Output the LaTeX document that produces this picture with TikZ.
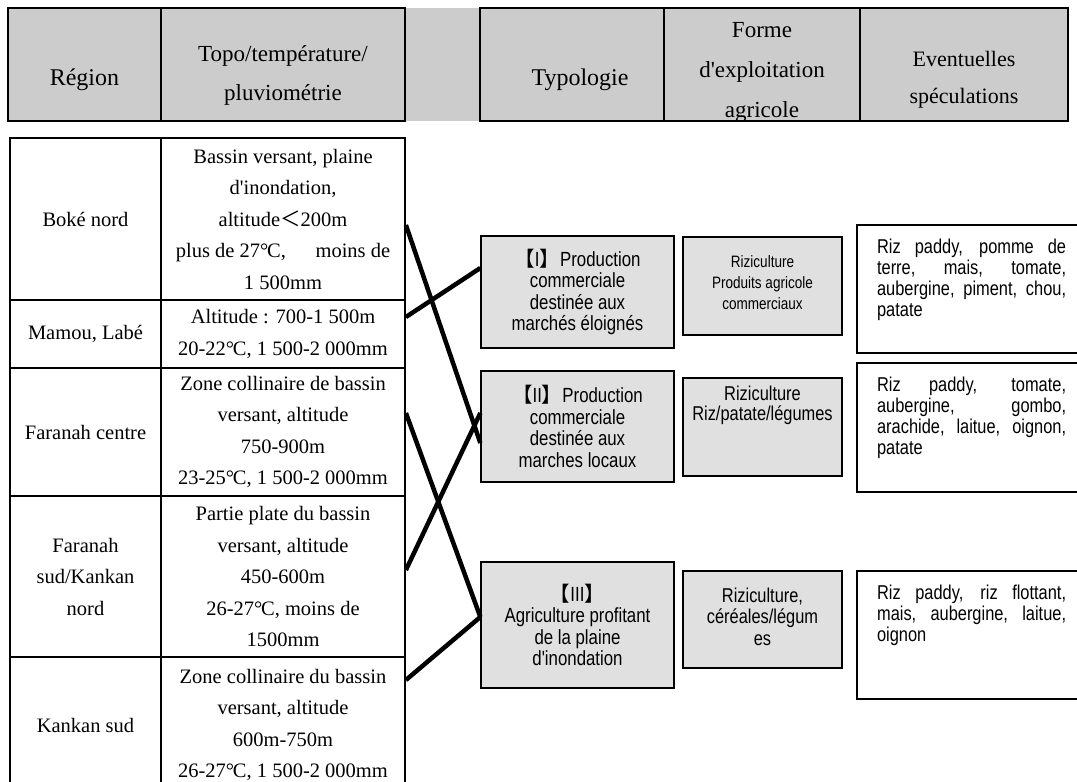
\documentclass[tikz,border=0pt]{standalone}
\usepackage{fontspec}
\setmainfont{Liberation Serif}[Ligatures=TeXOff]
\newfontfamily\narrow{Liberation Sans}[FakeStretch=0.82]
\newfontfamily\cjk{Noto Sans CJK SC}
\newcommand\degc{°\kern-0.06em C}
\definecolor{hdrgray}{gray}{0.8}
\definecolor{boxgray}{gray}{0.88}
\usetikzlibrary{positioning}

\begin{document}
\begin{tikzpicture}[x=1pt,y=-1pt,
    hdr/.style={draw,line width=2.4pt,inner sep=0pt,minimum height=113pt},
    cell/.style={draw,line width=1.8pt,inner sep=0pt,align=center,font=\fontsize{20.5}{31.5}\selectfont},
    typo/.style={draw,line width=1.3pt,fill=boxgray,minimum width=193pt,inner sep=0pt,align=center,font=\narrow\fontsize{20.5}{21.5}\selectfont},
    forme/.style={draw,line width=1.8pt,fill=boxgray,minimum width=159pt,minimum height=98pt,inner sep=0pt},
    ftext/.style={align=center,inner sep=0pt},
    spec/.style={draw,line width=2.2pt,minimum width=230pt,inner sep=0pt},
    stext/.style={text width=189pt,align=justify,inner sep=0pt,anchor=north west,font=\narrow\fontsize{20}{21}\selectfont},
    link/.style={line width=4.5pt}]
\clip (0,0) rectangle (1077,782);

% header band
\fill[hdrgray] (8,8) rectangle (1068,121);
\node[hdr,minimum width=153pt] (hReg) at (84.5,64.5) {};
\node[hdr,minimum width=244pt] (hTopo) at (283,64.5) {};
\node[hdr,minimum width=184pt] (hTyp) at (572,64.5) {};
\node[hdr,minimum width=196pt] (hForme) at (762,64.5) {};
\node[hdr,minimum width=208pt] (hSpec) at (964,64.5) {};
\node[font=\fontsize{24}{30}\selectfont] at ([yshift=-15pt]hReg.center) {Région};
\node[align=center,font=\fontsize{23}{39}\selectfont] at ([yshift=-11pt]hTopo.center) {Topo/température/\\pluviométrie};
\node[font=\fontsize{24}{30}\selectfont] at ([xshift=8pt,yshift=-15pt]hTyp.center) {Typologie};
\node[align=center,font=\fontsize{23}{40}\selectfont] at ([yshift=-8pt]hForme.center) {Forme\\d'exploitation\\agricole};
\node[align=center,font=\fontsize{22}{37}\selectfont] at ([yshift=-15pt]hSpec.center) {Eventuelles\\spéculations};

% regions
\node[cell,minimum width=151pt,minimum height=162pt] (r1) at (85.5,219) {Boké nord};
\node[cell,minimum width=244pt,minimum height=162pt] (d1) at (283,219)
  {Bassin versant, plaine\\d'inondation,\\altitude{\cjk ＜}200m\\plus de 27\degc,\hspace{1.2em} moins de\\1 500mm};
\node[cell,minimum width=151pt,minimum height=68pt] (r2) at (85.5,334) {Mamou, Labé};
\node[cell,minimum width=244pt,minimum height=68pt] (d2) at (283,334)
  {Altitude : 700-1 500m\\20-22\degc, 1 500-2 000mm};
\node[cell,minimum width=151pt,minimum height=128pt] (r3) at (85.5,432) {Faranah centre};
\node[cell,minimum width=244pt,minimum height=128pt] (d3) at (283,432)
  {Zone collinaire de bassin\\versant, altitude\\750-900m\\23-25\degc, 1 500-2 000mm};
\node[cell,minimum width=151pt,minimum height=161pt] (r4) at (85.5,576.5) {Faranah\\sud/Kankan\\nord};
\node[cell,minimum width=244pt,minimum height=161pt] (d4) at (283,576.5)
  {Partie plate du bassin\\versant, altitude\\450-600m\\26-27\degc, moins de\\1500mm};
\node[cell,minimum width=151pt,minimum height=136pt] (r5) at (85.5,725) {Kankan sud};
\node[cell,minimum width=244pt,minimum height=136pt] (d5) at (283,725)
  {Zone collinaire du bassin\\versant, altitude\\600m-750m\\26-27\degc, 1 500-2 000mm};

% typologie
\node[typo,minimum height=112pt] (tI) at (577.5,292)
  {{\cjk 【}I{\cjk 】}Production\\commerciale\\destinée aux\\marchés éloignés};
\node[typo,minimum height=111pt] (tII) at (577.5,426.5)
  {{\cjk 【}II{\cjk 】}Production\\commerciale\\destinée aux\\marches locaux};
\node[typo,minimum height=126pt] (tIII) at (577.5,625)
  {{\cjk 【}III{\cjk 】}\\Agriculture profitant\\de la plaine\\d'inondation};

% forme d'exploitation
\node[forme] (fI) at (762.5,286) {};
\node[forme] (fII) at (762.5,427) {};
\node[forme,minimum height=97pt] (fIII) at (762.5,619.5) {};
\node[ftext,font=\narrow\fontsize{16.5}{21}\selectfont] at ([yshift=3pt]fI.center) {Riziculture\\Produits agricole\\commerciaux};
\node[ftext,font=\narrow\fontsize{20}{20}\selectfont] at ([yshift=22pt]fII.center) {Riziculture\\Riz/patate/légumes};
\node[ftext,font=\narrow\fontsize{20}{21.5}\selectfont] at ([yshift=3pt]fIII.center) {Riziculture,\\céréales/légum\\es};

% speculations
\node[spec,minimum height=128pt] (sI) at (972,289) {};
\node[spec,minimum height=129pt] (sII) at (972,427.5) {};
\node[spec,minimum height=128pt] (sIII) at (972,635) {};
\node[stext] at ([xshift=21pt,yshift=-15pt]sI.north west)
  {Riz paddy, pomme de\linebreak terre, mais, tomate,\linebreak aubergine, piment, chou,\linebreak patate};
\node[stext] at ([xshift=21pt,yshift=-15pt]sII.north west)
  {Riz paddy, tomate,\linebreak aubergine, gombo,\linebreak arachide, laitue, oignon,\linebreak patate};
\node[stext] at ([xshift=21pt,yshift=-15pt]sIII.north west)
  {Riz paddy, riz flottant,\linebreak mais, aubergine, laitue,\linebreak oignon};

% links
\draw[link] ([yshift=-6pt]d1.east) -- ([yshift=-16.5pt]tII.west);
\draw[link] ([yshift=17pt]d2.east) -- ([yshift=24pt]tI.west);
\draw[link] ([yshift=19pt]d3.east) -- ([yshift=8pt]tIII.west);
\draw[link] ([yshift=6.5pt]d4.east) -- ([yshift=13.5pt]tII.west);
\draw[link] ([yshift=45pt]d5.east) -- ([yshift=8pt]tIII.west);
\end{tikzpicture}
\end{document}
